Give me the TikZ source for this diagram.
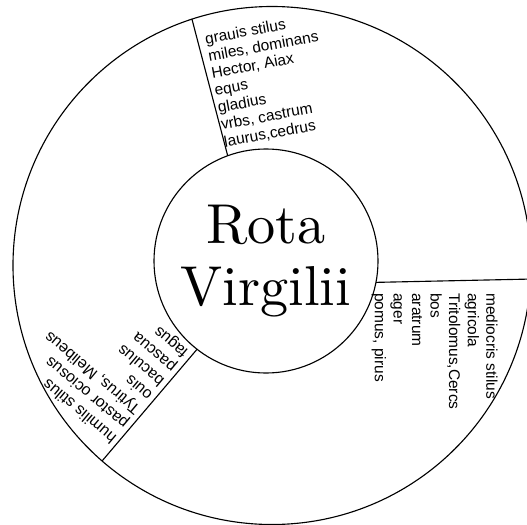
\documentclass[tikz,border=0pt]{standalone}
\usepackage{fontspec}
\setsansfont{Liberation Sans}
\newfontfamily\rotafont{lmroman10-regular}[Extension=.otf]
\usepackage{tikz}
\usetikzlibrary{calc}

\tikzset{
  ring/.style = {circle, draw, line width=.8pt, inner sep=0pt, outer sep=0pt},
  spoke/.style = {line width=.8pt},
  words/.style = {anchor=north west, align=left, inner sep=0pt,
    font=\sffamily\fontsize{11.3}{13.2}\selectfont}
}

\begin{document}
\begin{tikzpicture}
  \useasboundingbox (-6.725,-6.475) rectangle (6.45,6.625);
  \node[ring, minimum size=12.95cm] (outer) at (0.075,-0.0125) {};
  \node[ring, minimum size=5.6cm, align=center,
    font=\rotafont\fontsize{40}{44.6}\selectfont] (inner) at (-0.075,0.1)
  {Rota\\Virgilii};
  \draw[spoke] (inner.110) -- (outer.108.7);
  \draw[spoke] (inner.-11) -- (outer.-3.9);
  \draw[spoke] (inner.232.6) -- (outer.229.6);
  \node[words, rotate=10.5, font=\sffamily\fontsize{11}{12.4}\selectfont]
  (heroic) at (-1.63,5.8)
  {grauis stilus\\ miles, dominans\\ Hector, Aiax\\ equs\\ gladius\\
    vrbs, castrum\\ laurus,cedrus};
  \node[words, rotate=-90, font=\sffamily\fontsize{11}{13.2}\selectfont]
  (georgic) at (5.72,-0.7)
  {mediocris stilus\\ agricola\\ Tritolomus,Cercs\\ bos\\ aratrum\\ ager\\
    pomus, pirus};
  \node[words, rotate=140] (bucolic) at (-3.975,-4.51)
  {humilis stilus\\ pastor ociosus\\ Tytirus, Melibeus\\ ouis\\ baculus\\
    pascua\\ fagus};
\end{tikzpicture}
\end{document}
